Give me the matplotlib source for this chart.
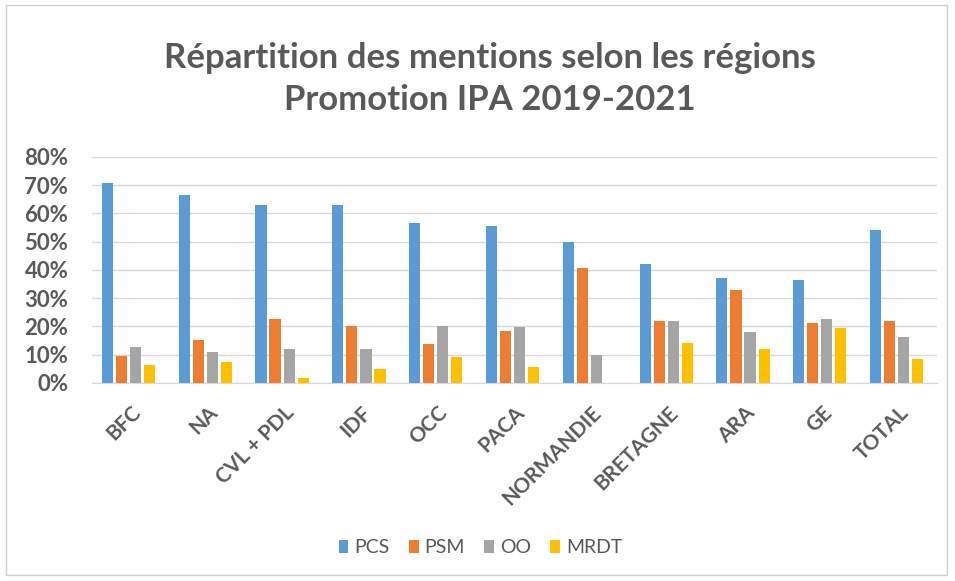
import numpy as np
import matplotlib
matplotlib.use('Agg')
import matplotlib.pyplot as plt
from matplotlib.patches import Rectangle
from matplotlib.ticker import PercentFormatter

regions = ['BFC', 'NA', 'CVL + PDL', 'IDF', 'OCC', 'PACA', 'NORMANDIE',
           'BRETAGNE', 'ARA', 'GE', 'TOTAL']
series = ['PCS', 'PSM', 'OO', 'MRDT']
pcs = [70.8, 66.7, 62.9, 62.9, 56.6, 55.7, 49.9, 42.0, 37.3, 36.6, 54.0]
psm = [9.4, 15.1, 22.8, 20.1, 13.7, 18.3, 40.8, 22.1, 32.8, 21.2, 21.8]
oo = [12.7, 11.0, 11.9, 12.2, 20.3, 19.8, 9.8, 22.1, 18.2, 22.8, 16.3]
mrdt = [6.3, 7.3, 1.9, 5.1, 9.2, 5.6, 0.0, 14.2, 11.9, 19.3, 8.4]
colors = ['#5B9BD5', '#ED7D31', '#A5A5A5', '#FFC000']

plt.rcParams['font.family'] = ['Lato', 'DejaVu Sans']
txt = '#595959'

fig = plt.figure(figsize=(9.55, 5.81), dpi=100)
fig.patches.append(Rectangle((0.006, 0.01), 0.986, 0.982, transform=fig.transFigure,
                             fill=False, edgecolor='#D0D0D0', lw=1))

ax = fig.add_axes([0.0963, 0.3408, 0.8848, 0.389])
x = np.arange(len(regions))
w = 0.145
step = 0.183
for i, (vals, name) in enumerate(zip([pcs, psm, oo, mrdt], series)):
    ax.bar(x + (i - 1.5) * step - 0.025, np.array(vals) / 100, width=w,
           color=colors[i], label=name, zorder=3)

ax.set_xlim(-0.5, len(regions) - 0.5)
ax.set_ylim(0, 0.8)
ax.set_yticks(np.arange(0, 0.81, 0.1))
ax.yaxis.set_major_formatter(PercentFormatter(1.0, decimals=0))
ax.grid(axis='y', color='#D9D9D9', lw=1, zorder=0)
for s in ['top', 'right', 'left']:
    ax.spines[s].set_visible(False)
ax.spines['bottom'].set_color('#D9D9D9')
ax.tick_params(axis='both', length=0, colors=txt)
ax.tick_params(axis='y', pad=17)
ax.tick_params(axis='x', pad=14)
ax.set_xticks(x)
ax.set_xticklabels(regions, rotation=45, ha='right', rotation_mode='anchor')
for lab in ax.get_yticklabels():
    lab.set_fontsize(16)
    lab.set_fontweight('bold')
for lab in ax.get_xticklabels():
    lab.set_fontsize(15)
    lab.set_fontweight('bold')

fig.text(0.513, 0.90, 'Répartition des mentions selon les régions', ha='center', va='center',
         fontsize=25, fontweight='bold', color=txt)
fig.text(0.513, 0.828, 'Promotion IPA 2019-2021', ha='center', va='center',
         fontsize=25, fontweight='bold', color=txt)

leg = fig.legend(loc='center', bbox_to_anchor=(0.503, 0.057), ncol=4, frameon=False,
                 fontsize=14, handlelength=0.5, handleheight=0.6, handletextpad=0.3,
                 columnspacing=1.0)
for t in leg.get_texts():
    t.set_color(txt)

fig.savefig('out.png', dpi=100)
